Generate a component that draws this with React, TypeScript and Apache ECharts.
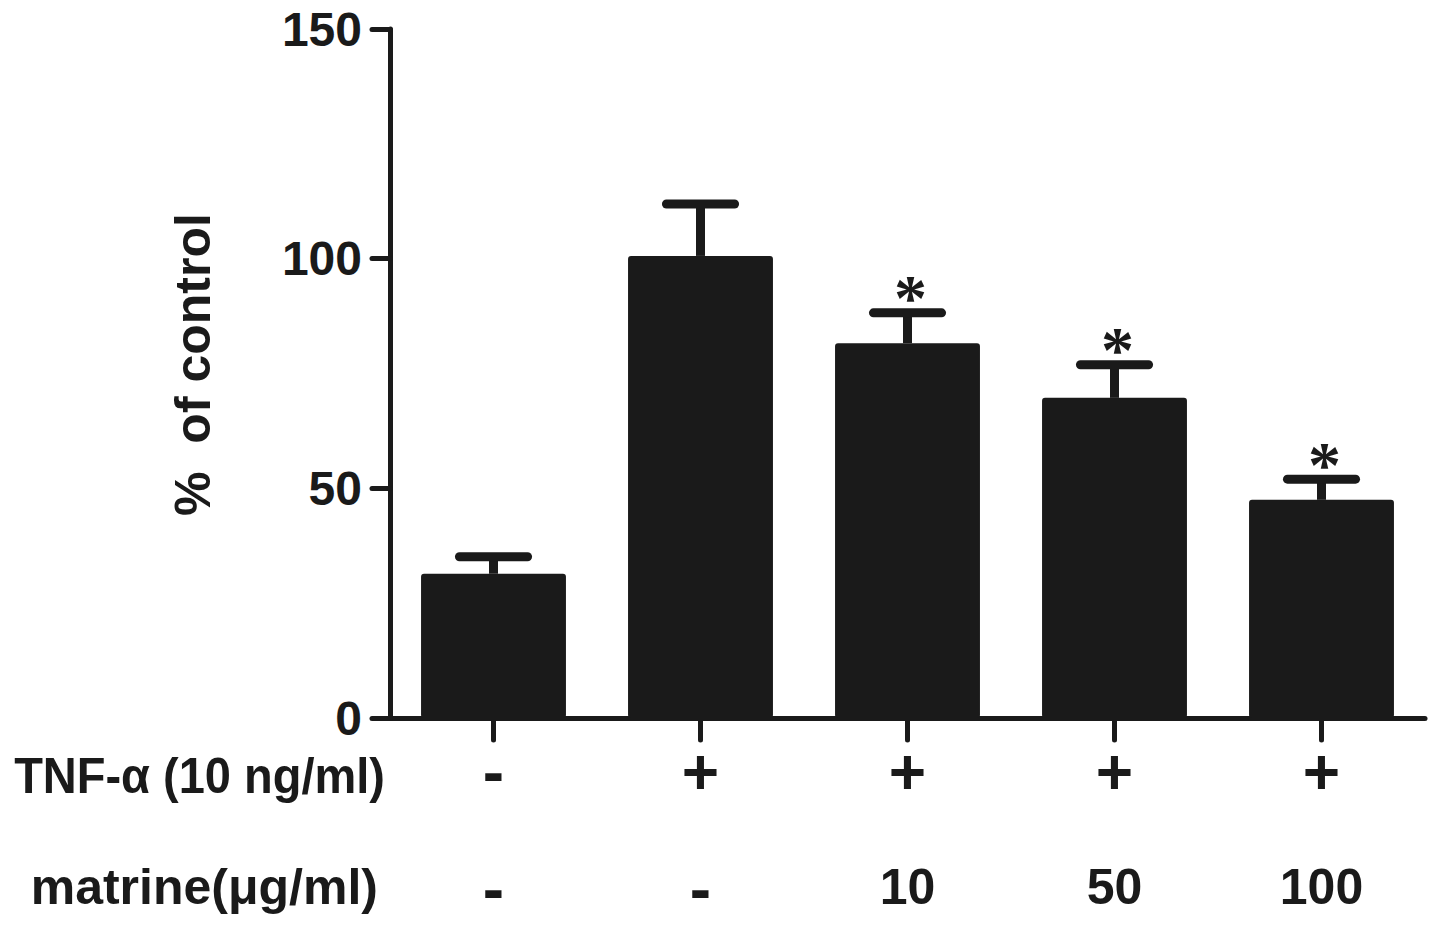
import React, { useEffect, useRef } from "react";
import * as echarts from "echarts";

const groups = ["G1", "G2", "G3", "G4", "G5"];
const tnfLabels = ["-", "+", "+", "+", "+"];
const matrineLabels = ["-", "-", "10", "50", "100"];
const means = [31.4, 100.6, 81.6, 69.7, 47.5];
const errors = [3.7, 11.3, 6.6, 7.2, 4.5];
const significant = [0, 0, 1, 1, 1];
const yTicks = { min: 0, max: 150, interval: 50 };

const INK = "#1a1a1a";
const FONT = "'Liberation Sans', Arial, sans-serif";

export default function App() {
  const ref = useRef<HTMLDivElement>(null);
  useEffect(() => {
    if (!ref.current) return;
    const chart = echarts.init(ref.current, undefined, { renderer: "svg" });
    const errData = groups.map((_, i) => [i, means[i], errors[i], significant[i]]);
    chart.setOption({
      animation: false,
      backgroundColor: "#ffffff",
      grid: { left: 390, right: 16, top: 29, bottom: 208, containLabel: false },
      xAxis: [
        {
          type: "category",
          data: tnfLabels,
          position: "bottom",
          axisLine: { show: true, lineStyle: { color: INK, width: 5, cap: "round" } },
          axisTick: { show: true, alignWithLabel: true, length: 22, lineStyle: { color: INK, width: 5, cap: "round" } },
          axisLabel: { show: true, color: INK, fontSize: 64, fontWeight: "bold", fontFamily: FONT, margin: 22 },
          splitLine: { show: false },
        },
        {
          type: "category",
          data: matrineLabels,
          position: "bottom",
          axisLine: { show: false },
          axisTick: { show: false },
          axisLabel: {
            show: true,
            color: INK,
            fontWeight: "bold",
            fontFamily: FONT,
            margin: 140,
            formatter: (v: string) => (v === "-" ? "{d|-}" : "{n|" + v + "}"),
            rich: {
              d: { fontSize: 64, lineHeight: 62, fontWeight: "bold", fontFamily: FONT, color: INK },
              n: { fontSize: 50, fontWeight: "bold", fontFamily: FONT, color: INK, padding: [4, 0, 0, 0] },
            },
          },
          splitLine: { show: false },
        },
      ],
      yAxis: {
        type: "value",
        min: yTicks.min,
        max: yTicks.max,
        interval: yTicks.interval,
        name: "%  of control",
        nameLocation: "middle",
        nameGap: 172,
        nameRotate: 90,
        nameTextStyle: { color: INK, fontSize: 50, fontWeight: "bold", fontFamily: FONT, padding: [0, 0, 0, 18] },
        axisLine: { show: true, lineStyle: { color: INK, width: 5, cap: "round" } },
        axisTick: { show: true, length: 18, lineStyle: { color: INK, width: 5, cap: "round" } },
        axisLabel: { color: INK, fontSize: 48, fontWeight: "bold", fontFamily: FONT, margin: 28 },
        splitLine: { show: false },
      },
      graphic: [
        {
          type: "text",
          x: 385,
          y: 775,
          scaleX: 0.94,
          style: { text: "TNF-α (10 ng/ml)", fill: INK, fontSize: 50, fontWeight: "bold", fontFamily: FONT, textAlign: "right", textVerticalAlign: "middle" },
        },
        {
          type: "text",
          x: 378,
          y: 887,
          style: { text: "matrine(μg/ml)", fill: INK, fontSize: 50, fontWeight: "bold", fontFamily: FONT, textAlign: "right", textVerticalAlign: "middle" },
        },
      ],
      series: [
        {
          type: "bar",
          xAxisIndex: 0,
          data: means,
          barWidth: "70%",
          itemStyle: { color: INK, borderRadius: 3 },
          z: 2,
        },
        {
          type: "custom",
          xAxisIndex: 0,
          data: errData,
          encode: { x: 0, y: 1 },
          z: 3,
          renderItem: (params: any, api: any) => {
            const i = api.value(0);
            const m = api.value(1);
            const e = api.value(2);
            const s = api.value(3);
            const base = api.coord([i, m]);
            const tip = api.coord([i, m + e]);
            const bw = api.size([1, 0])[0] * 0.7;
            const half = bw * 0.235;
            const children: any[] = [
              { type: "line", shape: { x1: base[0], y1: base[1], x2: tip[0], y2: tip[1] }, style: { stroke: INK, lineWidth: 9 } },
              { type: "line", shape: { x1: tip[0] - half, y1: tip[1], x2: tip[0] + half, y2: tip[1] }, style: { stroke: INK, lineWidth: 9, lineCap: "round" } },
            ];
            if (s) {
              children.push({
                type: "text",
                x: tip[0] + 3,
                y: tip[1] - 15,
                style: { text: "*", fill: INK, fontSize: 66, fontWeight: "bold", fontFamily: "'Liberation Serif', 'DejaVu Serif', serif", textAlign: "center", textVerticalAlign: "middle" },
              });
            }
            return { type: "group", children };
          },
        },
      ],
    });
    return () => chart.dispose();
  }, []);
  return <div ref={ref} style={{ position: "fixed", left: 0, top: 0, width: 1441, height: 926 }} />;
}
